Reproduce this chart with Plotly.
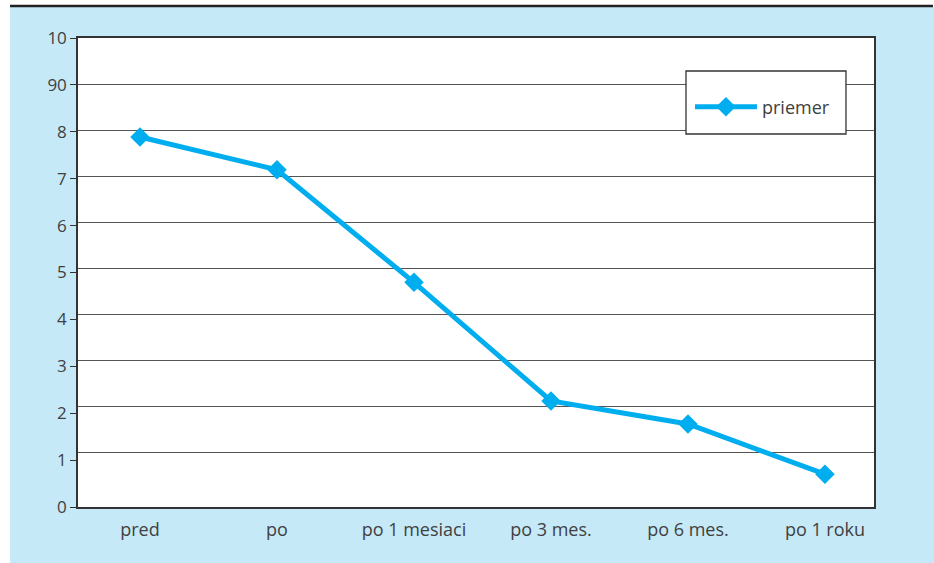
import plotly.graph_objects as go

categories = ["pred", "po", "po 1 mesiaci", "po 3 mes.", "po 6 mes.", "po 1 roku"]
priemer = [7.89, 7.19, 4.79, 2.26, 1.77, 0.70]
y_tickvals = [0, 1, 2, 3, 4, 5, 6, 7, 8, 9, 10]
y_ticktext = ["0", "1", "2", "3", "4", "5", "6", "7", "8", "90", "10"]
grid_steps = [1, 2, 3, 4, 5, 6, 7, 8, 9]
GRID_OFFSET = 0.19  # the original's gridlines sit slightly off the tick marks

# map the gridline step scale ([-offset, 10]) onto the value axis ([0, 10])
grid_vals = [(g + GRID_OFFSET) / (10 + GRID_OFFSET) * 10 for g in grid_steps]

FONT = "Open Sans"
TXT = "#404040"
BLUE_BG = "#c6e9f8"
LINE = "#00aeef"
DARK = "#333333"

fig = go.Figure()
fig.add_trace(go.Scatter(
    x=categories, y=priemer, name="priemer",
    mode="lines+markers",
    line=dict(color=LINE, width=5),
    marker=dict(symbol="diamond", size=15, color=LINE),
))

shapes = [
    # white strip at the left of the blue panel
    dict(type="rect", xref="paper", yref="paper", x0=-0.11, x1=-0.0854, y0=-0.2, y1=1.2,
         fillcolor="white", line=dict(width=0), layer="below"),
    # white strip above the top rule
    dict(type="rect", xref="paper", yref="paper", x0=-0.11, x1=1.2, y0=1.066, y1=1.2,
         fillcolor="white", line=dict(width=0), layer="below"),
    # dark rule along the top
    dict(type="line", xref="paper", yref="paper", x0=-0.0854, x1=1.0741, y0=1.0683, y1=1.0683,
         line=dict(color="#222222", width=2.5), layer="above"),
    # legend box
    dict(type="rect", xref="paper", yref="paper", x0=0.7638, x1=0.9648, y0=0.7953, y1=0.9296,
         fillcolor="white", line=dict(color=DARK, width=1.3), layer="above"),
]

fig.update_layout(
    width=934, height=563,
    margin=dict(l=78, r=60, t=38, b=56),
    paper_bgcolor=BLUE_BG, plot_bgcolor="white",
    font=dict(family=FONT, size=17, color=TXT),
    xaxis=dict(type="category", range=[-0.4526, 5.358], showgrid=False,
               showline=True, linecolor=DARK, linewidth=1.5, mirror=True,
               ticks="", tickfont=dict(size=18, color=TXT), zeroline=False,
               ticklabelstandoff=6),
    yaxis=dict(range=[0, 10], tickvals=y_tickvals, ticktext=y_ticktext,
               showgrid=False, zeroline=False,
               ticks="outside", ticklen=6, tickcolor=DARK, tickwidth=1.3,
               tickfont=dict(size=17, color=TXT),
               showline=True, linecolor=DARK, linewidth=1.5, mirror=True,
               minor=dict(tickvals=grid_vals, showgrid=True, gridcolor="#555555",
                          gridwidth=1, ticks="")),
    showlegend=True,
    legend=dict(x=0.7688, y=0.853, xanchor="left", yanchor="middle",
                bgcolor="rgba(0,0,0,0)", borderwidth=0, itemwidth=62,
                font=dict(size=18, color=TXT)),
    shapes=shapes,
)

fig.write_html("out.html", config={"displayModeBar": False},
               post_script="document.body.style.margin='0';")
